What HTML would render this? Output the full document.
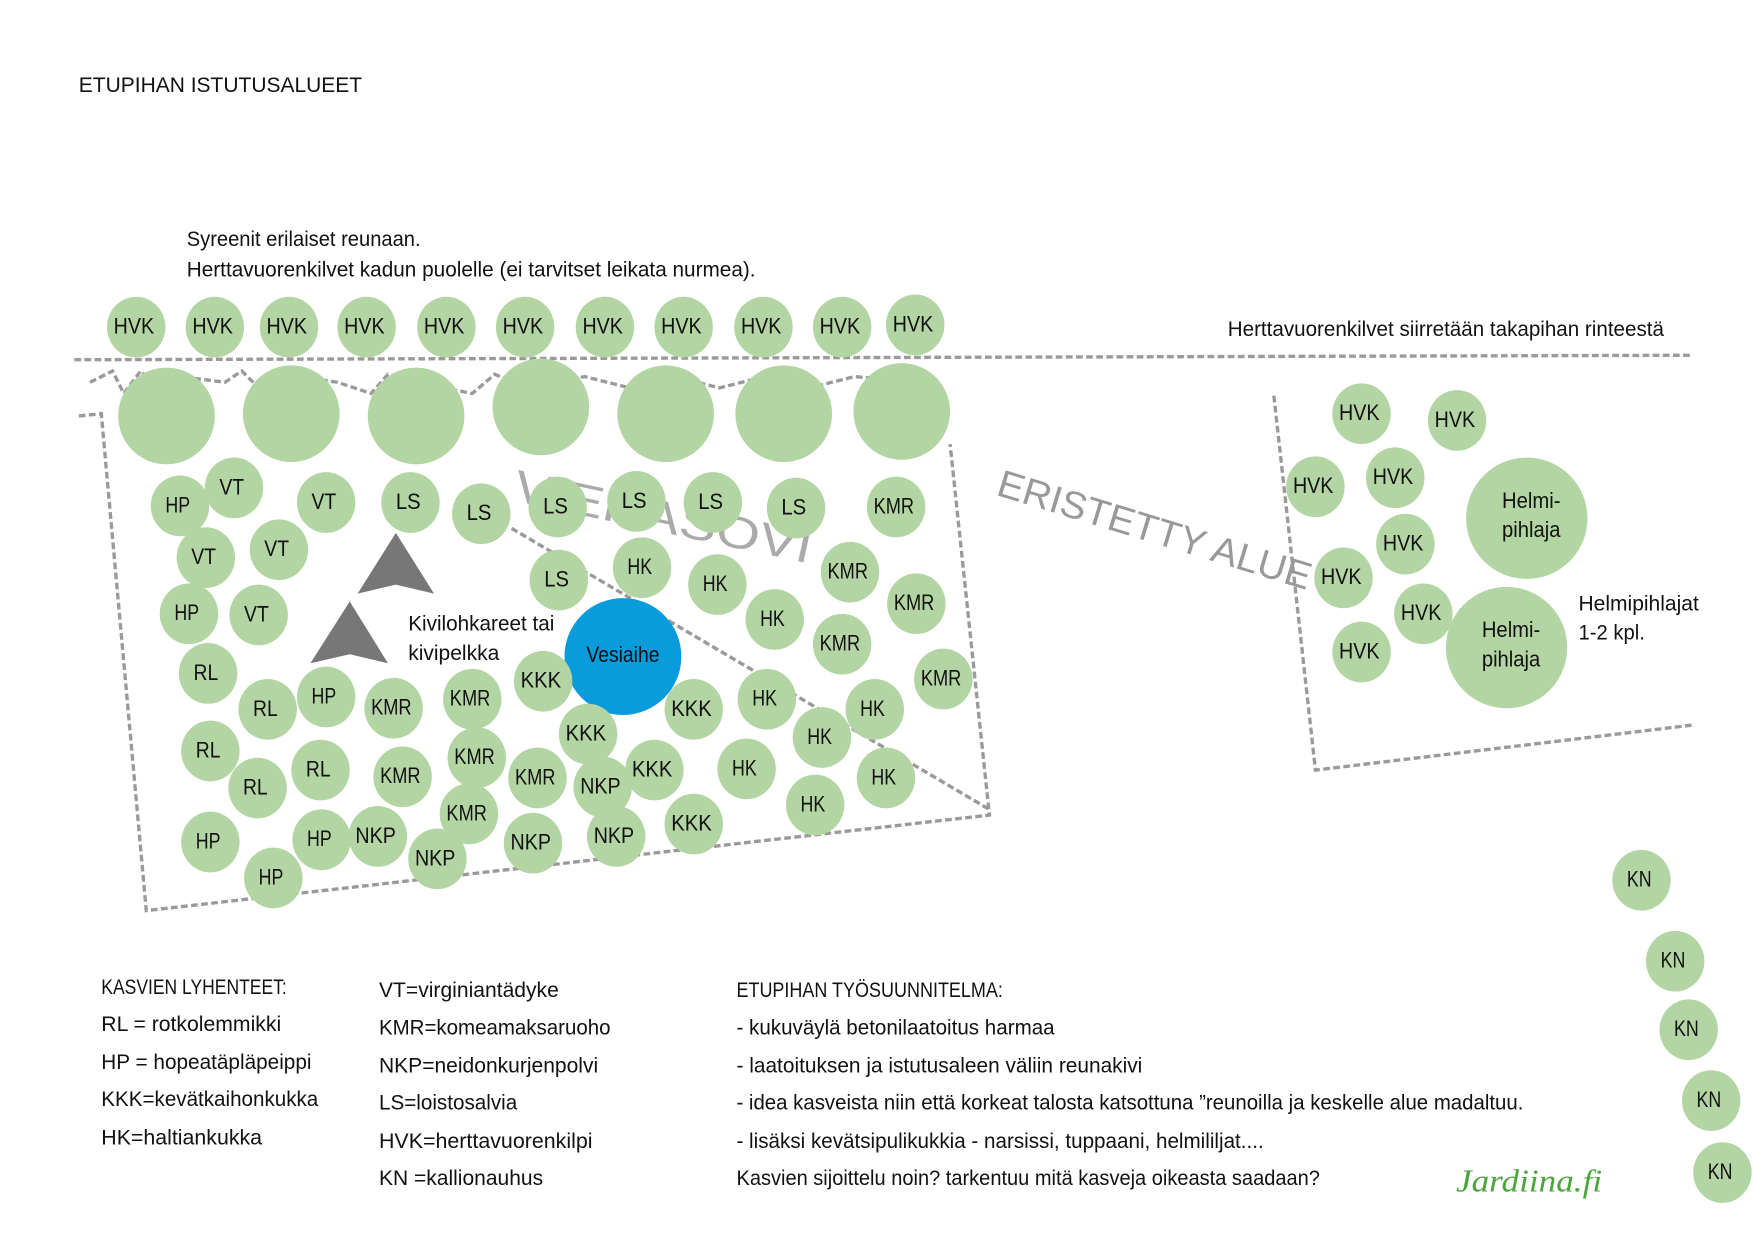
<!DOCTYPE html>
<html><head><meta charset="utf-8"><style>
html,body{margin:0;padding:0;background:#fff;}
svg{display:block}
text{font-family:"Liberation Sans Narrow","Liberation Sans",sans-serif;fill:#111}
.c{fill:#b3d5a3}
.l{font-size:20px;text-anchor:middle;dominant-baseline:central}
.t{font-size:19px}
.sk{fill:none;stroke:#9a9a9a;stroke-width:3;stroke-dasharray:6 3}
</style></head><body>
<svg width="1754" height="1240" viewBox="0 0 1560 1103" xmlns="http://www.w3.org/2000/svg">
<rect width="1560" height="1103" fill="#fff"/>
<path class="sk" d="M66 320 L1505 316"/>
<path class="sk" d="M80 340 L100 330 L110 350 L125 330 L140 345 L160 335 L200 340 L215 330 L230 345 L250 333 L300 340 L330 350 L345 333 L370 340 L420 350 L440 333 L470 345 L520 335 L560 345 L600 335 L640 345 L680 335 L720 345 L760 335 L820 340"/>
<path class="sk" d="M70 370 L90 368 L130 810 L880 725 L845 395"/>
<path class="sk" d="M455 470 L880 720"/>
<path class="sk" d="M1133 352 L1170 685 L1505 645"/>
<text x="455" y="445" transform="rotate(12 455 445)" style="font-size:40px;fill:#aaa;font-family:'Liberation Sans',sans-serif" textLength="270" lengthAdjust="spacingAndGlyphs">VIERASOVI</text>
<text x="885" y="440" transform="rotate(17 885 440)" style="font-size:34px;fill:#999;font-family:'Liberation Sans',sans-serif" textLength="290" lengthAdjust="spacingAndGlyphs">ERISTETTY ALUE</text>
<g class="c">
<circle cx="148" cy="370" r="43"/><circle cx="259" cy="368" r="43"/><circle cx="370" cy="370" r="43"/><circle cx="481" cy="362" r="43"/><circle cx="592" cy="368" r="43"/><circle cx="697" cy="368" r="43"/><circle cx="802" cy="366" r="43"/>
<circle cx="1358" cy="461" r="54"/><circle cx="1340" cy="576" r="54"/>
</g>
<circle cx="554" cy="584" r="52" fill="#0a9bdc"/>
<text class="l" x="554" y="582" textLength="65" lengthAdjust="spacingAndGlyphs">Vesiaihe</text>
<text class="l" x="1362" y="445" textLength="52" lengthAdjust="spacingAndGlyphs">Helmi-</text><text class="l" x="1362" y="471" textLength="52" lengthAdjust="spacingAndGlyphs">pihlaja</text>
<text class="l" x="1344" y="560" textLength="52" lengthAdjust="spacingAndGlyphs">Helmi-</text><text class="l" x="1344" y="586" textLength="52" lengthAdjust="spacingAndGlyphs">pihlaja</text>
<path d="M352 474 L386 528 L352 520 L318 528 Z" fill="#777"/>
<path d="M311 535 L345 590 L311 582 L276 590 Z" fill="#777"/>
<g id="small"></g>
<g class="t" lengthAdjust="spacingAndGlyphs">
<text x="70" y="82" textLength="252" lengthAdjust="spacingAndGlyphs">ETUPIHAN ISTUTUSALUEET</text>
<text x="166" y="219" textLength="208" lengthAdjust="spacingAndGlyphs">Syreenit erilaiset reunaan.</text>
<text x="166" y="246" textLength="506" lengthAdjust="spacingAndGlyphs">Herttavuorenkilvet kadun puolelle (ei tarvitset leikata nurmea).</text>
<text x="1092" y="299" textLength="388" lengthAdjust="spacingAndGlyphs">Herttavuorenkilvet siirretään takapihan rinteestä</text>
<text x="363" y="561" textLength="130" lengthAdjust="spacingAndGlyphs">Kivilohkareet tai</text>
<text x="363" y="587" textLength="81" lengthAdjust="spacingAndGlyphs">kivipelkka</text>
<text x="1404" y="543" textLength="107" lengthAdjust="spacingAndGlyphs">Helmipihlajat</text>
<text x="1404" y="569" textLength="59" lengthAdjust="spacingAndGlyphs">1-2 kpl.</text>
<text x="90" y="884" textLength="165" lengthAdjust="spacingAndGlyphs">KASVIEN LYHENTEET:</text>
<text x="90" y="917" textLength="160" lengthAdjust="spacingAndGlyphs">RL = rotkolemmikki</text>
<text x="90" y="951" textLength="187" lengthAdjust="spacingAndGlyphs">HP = hopeatäpläpeippi</text>
<text x="90" y="984" textLength="193" lengthAdjust="spacingAndGlyphs">KKK=kevätkaihonkukka</text>
<text x="90" y="1018" textLength="143" lengthAdjust="spacingAndGlyphs">HK=haltiankukka</text>
<text x="337" y="887" textLength="160" lengthAdjust="spacingAndGlyphs">VT=virginiantädyke</text>
<text x="337" y="920" textLength="206" lengthAdjust="spacingAndGlyphs">KMR=komeamaksaruoho</text>
<text x="337" y="954" textLength="195" lengthAdjust="spacingAndGlyphs">NKP=neidonkurjenpolvi</text>
<text x="337" y="987" textLength="123" lengthAdjust="spacingAndGlyphs">LS=loistosalvia</text>
<text x="337" y="1021" textLength="190" lengthAdjust="spacingAndGlyphs">HVK=herttavuorenkilpi</text>
<text x="337" y="1054" textLength="146" lengthAdjust="spacingAndGlyphs">KN =kallionauhus</text>
<text x="655" y="887" textLength="237" lengthAdjust="spacingAndGlyphs">ETUPIHAN TYÖSUUNNITELMA:</text>
<text x="655" y="920" textLength="283" lengthAdjust="spacingAndGlyphs">- kukuväylä betonilaatoitus harmaa</text>
<text x="655" y="954" textLength="361" lengthAdjust="spacingAndGlyphs">- laatoituksen ja istutusaleen väliin reunakivi</text>
<text x="655" y="987" textLength="700" lengthAdjust="spacingAndGlyphs">- idea kasveista niin että korkeat talosta katsottuna ”reunoilla ja keskelle alue madaltuu.</text>
<text x="655" y="1021" textLength="469" lengthAdjust="spacingAndGlyphs">- lisäksi kevätsipulikukkia - narsissi, tuppaani, helmililjat....</text>
<text x="655" y="1054" textLength="519" lengthAdjust="spacingAndGlyphs">Kasvien sijoittelu noin? tarkentuu mitä kasveja oikeasta saadaan?</text>
</g>
<text x="1295" y="1060" style="font-size:28px;fill:#4aa63a;font-family:'Liberation Serif',serif;font-style:italic" textLength="130" lengthAdjust="spacingAndGlyphs">Jardiina.fi</text>
</svg>
<script>
var d=[["HVK",121,291],["HVK",191,291],["HVK",257,291],["HVK",326,291],["HVK",397,291],["HVK",467,291],["HVK",538,291],["HVK",608,291],["HVK",679,291],["HVK",749,291],["HVK",814,289],
["HVK",1211,368],["HVK",1296,374],["HVK",1170,433],["HVK",1241,425],["HVK",1250,484],["HVK",1195,514],["HVK",1266,546],["HVK",1211,580],
["KN",1460,783],["KN",1490,855],["KN",1502,916],["KN",1522,979],["KN",1532,1043],
["HP",160,450],["VT",208,434],["VT",290,447],["LS",365,447],["LS",428,457],["LS",496,451],["LS",566,446],["LS",634,447],["LS",708,452],["KMR",797,451],
["VT",183,496],["VT",248,489],["LS",497,516],["HK",571,505],["HK",638,520],["KMR",756,509],["KMR",815,537],
["HP",168,546],["VT",230,547],["HK",689,551],["KMR",749,573],
["RL",185,599],["KKK",483,606],["KMR",839,604],
["RL",238,631],["HP",290,620],["KMR",350,630],["KMR",420,622],["KKK",617,631],["HK",682,622],["HK",778,631],
["RL",187,668],["KKK",523,653],["HK",731,656],
["RL",229,701],["RL",285,685],["KMR",358,691],["KMR",424,674],["KMR",478,692],["NKP",536,700],["KKK",582,685],["HK",664,684],["HK",788,692],
["HP",187,749],["HP",286,747],["NKP",336,744],["KMR",417,724],["NKP",474,750],["NKP",548,744],["KKK",617,733],["HK",725,716],
["HP",243,781],["NKP",389,764]];
var g=document.getElementById("small"),h="";
d.forEach(function(a){var w=a[0].length==3?36:22;h+='<ellipse class="c" cx="'+a[1]+'" cy="'+a[2]+'" rx="26" ry="27"/><text class="l" x="'+(a[1]-2)+'" y="'+(a[2]-1)+'" textLength="'+w+'" lengthAdjust="spacingAndGlyphs">'+a[0]+'</text>';});
g.innerHTML=h;
</script>
</body></html>
